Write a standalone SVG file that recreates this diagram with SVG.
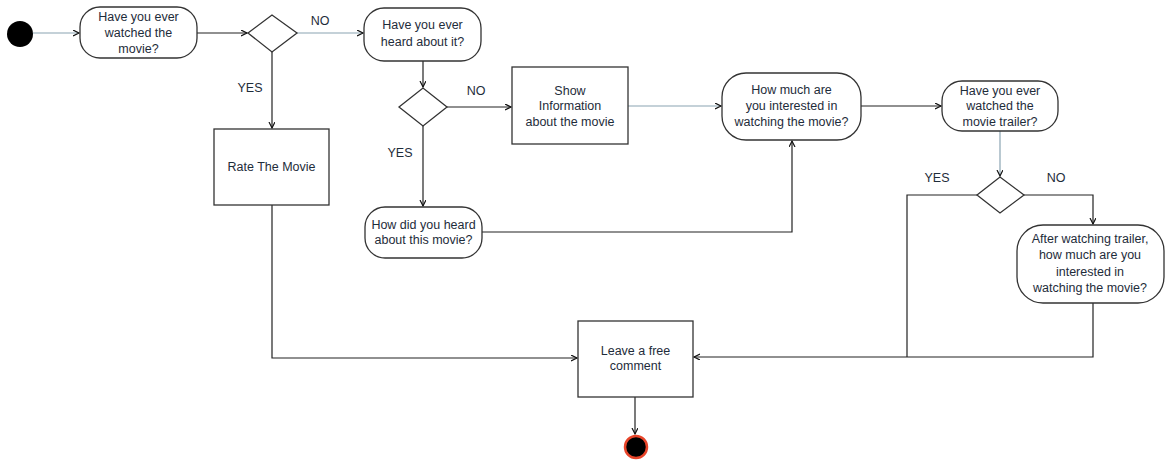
<svg xmlns="http://www.w3.org/2000/svg" width="1167" height="462" viewBox="0 0 1167 462">
<defs>
<marker id="arr" markerWidth="8" markerHeight="8" refX="6" refY="3" orient="auto" markerUnits="userSpaceOnUse">
<path d="M0,0 L6,3 L0,6" fill="none" stroke="#111" stroke-width="1.2"/>
</marker>
<style>
.n{fill:#fff;stroke:#333;stroke-width:1.3}
.t{font-family:"Liberation Sans",Arial,sans-serif;font-size:12.5px;fill:#1e2c3a;text-anchor:middle}
.c{fill:none;stroke:#222;stroke-width:1.2}
.b{fill:none;stroke:#8aa4b2;stroke-width:1.2}
</style>
</defs>
<rect width="1167" height="462" fill="#fff"/>
<g id="connectors">
<path class="b" d="M33,33 H79" marker-end="url(#arr)"/>
<path class="c" d="M197,33 H247" marker-end="url(#arr)"/>
<path class="b" d="M297,33 H363" marker-end="url(#arr)"/>
<path class="c" d="M272,52 V128" marker-end="url(#arr)"/>
<path class="c" d="M423,61 V87" marker-end="url(#arr)"/>
<path class="c" d="M447,107 H511" marker-end="url(#arr)"/>
<path class="c" d="M423,126 V206" marker-end="url(#arr)"/>
<path class="b" d="M628,106 H721" marker-end="url(#arr)"/>
<path class="c" d="M482,232 H792 V141" marker-end="url(#arr)"/>
<path class="c" d="M861,106 H941" marker-end="url(#arr)"/>
<path class="b" d="M1000,131 V176" marker-end="url(#arr)"/>
<path class="c" d="M977,195 H907 V357"/>
<path class="c" d="M1024,195 H1093 V224" marker-end="url(#arr)"/>
<path class="c" d="M1093,303 V357 H694" marker-end="url(#arr)"/>
<path class="c" d="M272,205 V358 H577" marker-end="url(#arr)"/>
<path class="c" d="M635,397 V434" marker-end="url(#arr)"/>
</g>
<g id="start"><circle cx="20" cy="34" r="13" fill="#000"/></g>
<g id="q_watched">
<rect class="n" x="80" y="7" width="117" height="51" rx="20"/>
<text class="t" x="138.5" y="21">Have you ever</text>
<text class="t" x="138.5" y="37">watched the</text>
<text class="t" x="138.5" y="53">movie?</text>
</g>
<g id="d1"><path class="n" d="M248,33 L272,15 L297,33 L272,52 Z"/></g>
<g id="lbl1">
<text class="t" x="320" y="25">NO</text>
<text class="t" x="250" y="92">YES</text>
</g>
<g id="q_heard">
<rect class="n" x="364" y="8" width="117" height="53" rx="20"/>
<text class="t" x="422.5" y="29">Have you ever</text>
<text class="t" x="422.5" y="46">heard about it?</text>
</g>
<g id="d2"><path class="n" d="M399,107 L423,88 L447,107 L423,126 Z"/></g>
<g id="lbl2">
<text class="t" x="476" y="95">NO</text>
<text class="t" x="400" y="157">YES</text>
</g>
<g id="rate">
<rect class="n" x="214" y="129" width="115" height="76"/>
<text class="t" x="271.5" y="171">Rate The Movie</text>
</g>
<g id="show_info">
<rect class="n" x="512" y="67" width="116" height="77"/>
<text class="t" x="570" y="95">Show</text>
<text class="t" x="570" y="110">Information</text>
<text class="t" x="570" y="126">about the movie</text>
</g>
<g id="how_did">
<rect class="n" x="365" y="207" width="117" height="51" rx="20"/>
<text class="t" x="423.5" y="229">How did you heard</text>
<text class="t" x="423.5" y="244">about this movie?</text>
</g>
<g id="how_much">
<rect class="n" x="722" y="73" width="139" height="67" rx="24"/>
<text class="t" x="791.5" y="94">How much are</text>
<text class="t" x="791.5" y="110">you interested in</text>
<text class="t" x="791.5" y="126">watching the movie?</text>
</g>
<g id="q_trailer">
<rect class="n" x="942" y="81" width="116" height="50" rx="20"/>
<text class="t" x="1000" y="95">Have you ever</text>
<text class="t" x="1000" y="110">watched the</text>
<text class="t" x="1000" y="126">movie trailer?</text>
</g>
<g id="d3"><path class="n" d="M977,195 L1000,177 L1024,195 L1000,213 Z"/></g>
<g id="lbl3">
<text class="t" x="937" y="182">YES</text>
<text class="t" x="1056" y="182">NO</text>
</g>
<g id="after_trailer">
<rect class="n" x="1017" y="225" width="147" height="78" rx="26"/>
<text class="t" x="1090" y="243">After watching trailer,</text>
<text class="t" x="1090" y="259">how much are you</text>
<text class="t" x="1090" y="276">interested in</text>
<text class="t" x="1090" y="292">watching the movie?</text>
</g>
<g id="leave_comment">
<rect class="n" x="578" y="321" width="115" height="76"/>
<text class="t" x="635.5" y="355">Leave a free</text>
<text class="t" x="635.5" y="370">comment</text>
</g>
<g id="end"><circle cx="636" cy="447" r="11" fill="#000" stroke="#e8452a" stroke-width="2.5"/></g>
</svg>
